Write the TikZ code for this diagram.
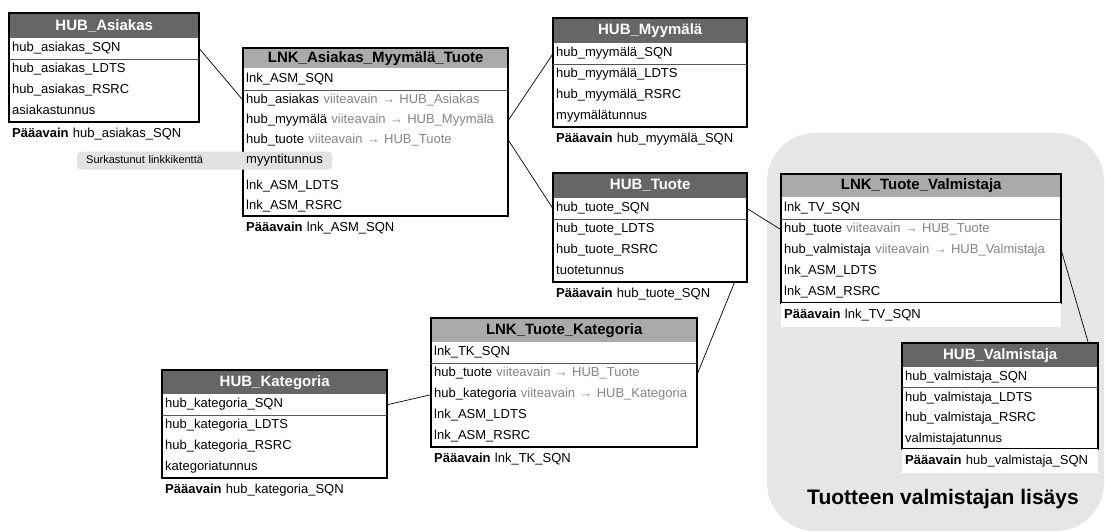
\documentclass[tikz,border=0pt]{standalone}
\usepackage{fontspec}
\setmainfont{Liberation Sans}
\definecolor{hubgray}{HTML}{666666}
\definecolor{lnkgray}{HTML}{AAAAAA}
\definecolor{areagray}{HTML}{E6E6E6}
\definecolor{notegray}{HTML}{E2E2E2}
\definecolor{fkgray}{HTML}{858585}
\definecolor{sepgray}{HTML}{555555}
\pgfdeclarelayer{area}
\pgfdeclarelayer{links}
\pgfsetlayers{area,links,main}

\begin{document}
\begin{tikzpicture}[x=1pt, y=-1pt,
		hubhead/.style = {anchor=north west, fill=hubgray, text=white, inner sep=0, font=\bfseries\fontsize{15}{17}\selectfont},
		lnkhead/.style = {hubhead, fill=lnkgray, text=black},
		field/.style = {anchor=north west, fill=white, inner xsep=3, inner ysep=0, minimum height=21, text height=9.5, text depth=3, align=left, font=\fontsize{13}{15}\selectfont},
		keyline/.style = {anchor=north west, inner xsep=3, inner ysep=0, minimum height=24, text height=9.5, text depth=3, align=left, font=\fontsize{13}{15}\selectfont},
		frame/.style = {line width=2},
		sep/.style = {sepgray, line width=0.9},
		relline/.style = {black, line width=0.7}]
				\useasboundingbox (0,0) rectangle (1105,531);
				\begin{pgfonlayer}{area}
				\fill [areagray, rounded corners=48] (767,133) rectangle (1104,531);
				\end{pgfonlayer}
				\node [font=\bfseries\fontsize{21}{25}\selectfont] (areaTitle) at (943,499) {Tuotteen valmistajan lisäys};

				% HUB_Asiakas
				\node [hubhead, minimum width=190, minimum height=25] (asiakasHead) at (9,13) {HUB\_Asiakas};
				\node [field, text width=184] (asiakasSQN) at (9,38) {hub\_asiakas\_SQN};
				\node [field, text width=184] (asiakasLDTS) at (9,59) {hub\_asiakas\_LDTS};
				\node [field, text width=184] (asiakasRSRC) at (9,80) {hub\_asiakas\_RSRC};
				\node [field, text width=184] (asiakasTunnus) at (9,101) {asiakastunnus};
				\draw [frame] (asiakasHead.north west) rectangle (asiakasTunnus.south east);
				\draw [sep] (asiakasSQN.south west) -- (asiakasSQN.south east);
				\node [keyline, text width=184] (asiakasKey) at (9,122) {\textbf{Pääavain} hub\_asiakas\_SQN};

				% LNK_Asiakas_Myymälä_Tuote
				\node [lnkhead, minimum width=265, minimum height=20] (amtHead) at (243,48) {LNK\_Asiakas\_Myymälä\_Tuote};
				\node [field, text width=259, minimum height=22] (amtSQN) at (243,68) {lnk\_ASM\_SQN};
				\node [field, text width=259, minimum height=20] (amtAsiakas) at (243,90) {hub\_asiakas \textcolor{fkgray}{viiteavain → HUB\_Asiakas}};
				\node [field, text width=259, minimum height=20] (amtMyymala) at (243,110) {hub\_myymälä \textcolor{fkgray}{viiteavain → HUB\_Myymälä}};
				\node [field, text width=259, minimum height=20] (amtTuote) at (243,130) {hub\_tuote \textcolor{fkgray}{viiteavain → HUB\_Tuote}};
				\node [field, text width=259, minimum height=26] (amtGap) at (243,150) {};
				\node [field, text width=259, minimum height=20] (amtLDTS) at (243,176) {lnk\_ASM\_LDTS};
				\node [field, text width=259, minimum height=20] (amtRSRC) at (243,196) {lnk\_ASM\_RSRC};
				\draw [frame] (amtHead.north west) rectangle (amtRSRC.south east);
				\draw [sep] (amtSQN.south west) -- (amtSQN.south east);
				\node [anchor=north west, fill=notegray, rounded corners=4, text width=237, minimum height=18, inner xsep=9, inner ysep=0, align=left, text height=8, text depth=2.5, font=\fontsize{11}{13}\selectfont] (surkastunut) at (77,151.5) {Surkastunut linkkikenttä};
				\node [field, fill=none, text width=120, minimum height=20] (amtMyynti) at (243,150) {myyntitunnus};
				\node [keyline, text width=259] (amtKey) at (243,216) {\textbf{Pääavain} lnk\_ASM\_SQN};

				% HUB_Myymälä
				\node [hubhead, minimum width=194, minimum height=25] (myymalaHead) at (553,18) {HUB\_Myymälä};
				\node [field, text width=188] (myymalaSQN) at (553,43) {hub\_myymälä\_SQN};
				\node [field, text width=188] (myymalaLDTS) at (553,64) {hub\_myymälä\_LDTS};
				\node [field, text width=188] (myymalaRSRC) at (553,85) {hub\_myymälä\_RSRC};
				\node [field, text width=188] (myymalaTunnus) at (553,106) {myymälätunnus};
				\draw [frame] (myymalaHead.north west) rectangle (myymalaTunnus.south east);
				\draw [sep] (myymalaSQN.south west) -- (myymalaSQN.south east);
				\node [keyline, text width=188] (myymalaKey) at (553,127) {\textbf{Pääavain} hub\_myymälä\_SQN};

				% HUB_Tuote
				\node [hubhead, minimum width=194, minimum height=25] (tuoteHead) at (553,173) {HUB\_Tuote};
				\node [field, text width=188] (tuoteSQN) at (553,198) {hub\_tuote\_SQN};
				\node [field, text width=188] (tuoteLDTS) at (553,219) {hub\_tuote\_LDTS};
				\node [field, text width=188] (tuoteRSRC) at (553,240) {hub\_tuote\_RSRC};
				\node [field, text width=188] (tuoteTunnus) at (553,261) {tuotetunnus};
				\draw [frame] (tuoteHead.north west) rectangle (tuoteTunnus.south east);
				\draw [sep] (tuoteSQN.south west) -- (tuoteSQN.south east);
				\node [keyline, text width=188] (tuoteKey) at (553,282) {\textbf{Pääavain} hub\_tuote\_SQN};

				% LNK_Tuote_Valmistaja
				\node [lnkhead, minimum width=280, minimum height=23] (tvHead) at (781,174) {LNK\_Tuote\_Valmistaja};
				\node [field, text width=274, minimum height=22] (tvSQN) at (781,197) {lnk\_TV\_SQN};
				\node [field, text width=274] (tvTuote) at (781,219) {hub\_tuote \textcolor{fkgray}{viiteavain → HUB\_Tuote}};
				\node [field, text width=274] (tvValmistaja) at (781,240) {hub\_valmistaja \textcolor{fkgray}{viiteavain → HUB\_Valmistaja}};
				\node [field, text width=274] (tvLDTS) at (781,261) {lnk\_ASM\_LDTS};
				\node [field, text width=274] (tvRSRC) at (781,282) {lnk\_ASM\_RSRC};
				\draw [frame] (tvHead.north west) rectangle (tvRSRC.south east);
				\draw [sep] (tvSQN.south west) -- (tvSQN.south east);
				\node [keyline, fill=white, text width=274] (tvKey) at (781,303) {\textbf{Pääavain} lnk\_TV\_SQN};

				% HUB_Valmistaja
				\node [hubhead, minimum width=196, minimum height=24] (valmistajaHead) at (902,343) {HUB\_Valmistaja};
				\node [field, text width=190, minimum height=20.5] (valmistajaSQN) at (902,367) {hub\_valmistaja\_SQN};
				\node [field, text width=190, minimum height=20.5] (valmistajaLDTS) at (902,387.5) {hub\_valmistaja\_LDTS};
				\node [field, text width=190, minimum height=20.5] (valmistajaRSRC) at (902,408) {hub\_valmistaja\_RSRC};
				\node [field, text width=190, minimum height=20.5] (valmistajaTunnus) at (902,428.5) {valmistajatunnus};
				\draw [frame] (valmistajaHead.north west) rectangle (valmistajaTunnus.south east);
				\draw [sep] (valmistajaSQN.south west) -- (valmistajaSQN.south east);
				\node [keyline, fill=white, text width=190] (valmistajaKey) at (902,449) {\textbf{Pääavain} hub\_valmistaja\_SQN};

				% LNK_Tuote_Kategoria
				\node [lnkhead, minimum width=266, minimum height=24] (tkHead) at (431,318) {LNK\_Tuote\_Kategoria};
				\node [field, text width=260] (tkSQN) at (431,342) {lnk\_TK\_SQN};
				\node [field, text width=260] (tkTuote) at (431,363) {hub\_tuote \textcolor{fkgray}{viiteavain → HUB\_Tuote}};
				\node [field, text width=260] (tkKategoria) at (431,384) {hub\_kategoria \textcolor{fkgray}{viiteavain → HUB\_Kategoria}};
				\node [field, text width=260] (tkLDTS) at (431,405) {lnk\_ASM\_LDTS};
				\node [field, text width=260] (tkRSRC) at (431,426) {lnk\_ASM\_RSRC};
				\draw [frame] (tkHead.north west) rectangle (tkRSRC.south east);
				\draw [sep] (tkSQN.south west) -- (tkSQN.south east);
				\node [keyline, text width=260] (tkKey) at (431,447) {\textbf{Pääavain} lnk\_TK\_SQN};

				% HUB_Kategoria
				\node [hubhead, minimum width=225, minimum height=24] (kategoriaHead) at (162,370) {HUB\_Kategoria};
				\node [field, text width=219] (kategoriaSQN) at (162,394) {hub\_kategoria\_SQN};
				\node [field, text width=219] (kategoriaLDTS) at (162,415) {hub\_kategoria\_LDTS};
				\node [field, text width=219] (kategoriaRSRC) at (162,436) {hub\_kategoria\_RSRC};
				\node [field, text width=219] (kategoriaTunnus) at (162,457) {kategoriatunnus};
				\draw [frame] (kategoriaHead.north west) rectangle (kategoriaTunnus.south east);
				\draw [sep] (kategoriaSQN.south west) -- (kategoriaSQN.south east);
				\node [keyline, text width=219] (kategoriaKey) at (162,478) {\textbf{Pääavain} hub\_kategoria\_SQN};

				% links
				\begin{pgfonlayer}{links}
				\draw [relline] (asiakasSQN.east) -- (amtAsiakas.west);
				\draw [relline] (amtMyymala.east) -- (myymalaSQN.west);
				\draw [relline] (amtTuote.east) -- (tuoteSQN.west);
				\draw [relline] (tuoteSQN.east) -- (tvTuote.west);
				\draw [relline] (tkTuote.east) -- (tuoteRSRC.east);
				\draw [relline] (tkKategoria.west) -- (kategoriaSQN.east);
				\draw [relline] (tvValmistaja.east) -- (valmistajaSQN.east);
				\end{pgfonlayer}
		\end{tikzpicture}
\end{document}
